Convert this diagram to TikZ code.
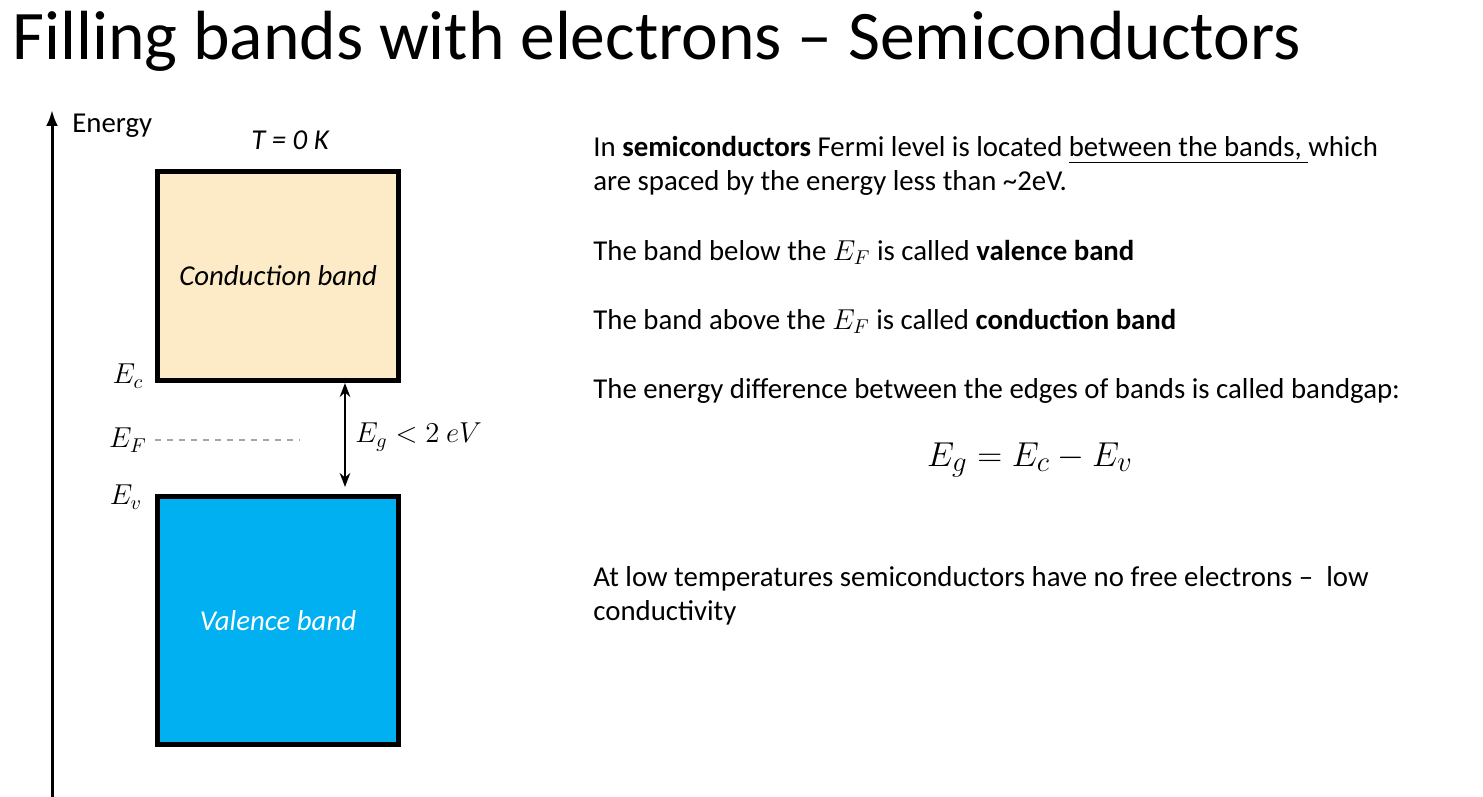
\documentclass[tikz,border=0pt]{standalone}
\usepackage{fontspec}
\setmainfont{Carlito}
\usetikzlibrary{arrows.meta}
\definecolor{cband}{HTML}{FCEBC6}
\definecolor{vband}{HTML}{00B0F0}
\tikzset{band/.style={draw=black,line width=2.6pt,inner sep=0pt},
 txt/.style={anchor=base west,inner sep=0pt,font=\fontsize{14.4}{16}\selectfont},
 lab/.style={inner sep=0pt,font=\fontsize{14.4}{16}\selectfont}}
\begin{document}
\begin{tikzpicture}[x=0.5pt,y=-0.5pt]
\useasboundingbox (0,0) rectangle (1483,797);
\node[anchor=base west,inner sep=0pt,font=\fontsize{34.8}{38}\selectfont] (title) at (12,60) {Filling bands with electrons -- Semiconductors};
\coordinate (a0) at (52,797); \coordinate (a1) at (52,110);
\draw[line width=1.5pt,-{Latex[length=8pt]}] (a0) -- (a1);
\node[txt] (en) at (72,133) {Energy};
\node[lab,font=\fontsize{14.4}{16}\selectfont\itshape] (T) at (290,140) {T = 0 K};
\node[band,fill=cband,minimum width=120.5pt,minimum height=104.5pt,anchor=north west,font=\fontsize{14.4}{16}\selectfont\itshape] (cb) at (155,169) {Conduction band};
\node[band,fill=vband,text=white,minimum width=120.5pt,minimum height=124pt,anchor=north west,font=\fontsize{14.4}{16}\selectfont\itshape] (vb) at (155,494) {Valence band};
\node[lab] (Ec) at (128,376) {$E_c$};
\node[lab] (EF) at (128,440) {$E_F$};
\node[lab] (Ev) at (126,497) {$E_v$};
\coordinate (f0) at (155,440); \coordinate (f1) at (300,440);
\draw[gray!70,dashed,line width=0.8pt] (f0) -- (f1);
\coordinate (g0) at (345,383); \coordinate (g1) at (345,487);
\draw[line width=1.4pt,{Stealth[length=7pt]}-{Stealth[length=7pt]}] (g0) -- (g1);
\node[lab,anchor=west] (Eg) at (355,437) {$E_g < 2\ eV$};
\node[txt] (t1) at (593,156) {In \textbf{semiconductors} Fermi level is located \underline{between the bands, }which};
\node[txt] (t2) at (593,191) {are spaced by the energy less than \textasciitilde 2eV.};
\node[txt] (t3) at (593,260) {The band below the $E_F$ is called \textbf{valence band}};
\node[txt] (t4) at (593,329) {The band above the $E_F$ is called \textbf{conduction band}};
\node[txt] (t5) at (593,398) {The energy difference between the edges of bands is called bandgap:};
\node[lab,font=\fontsize{19}{21}\selectfont] (eq) at (1030,460) {$E_g = E_c - E_v$};
\node[txt] (t6) at (593,586) {At low temperatures semiconductors have no free electrons --\ \ low};
\node[txt] (t7) at (593,620) {conductivity};
\end{tikzpicture}
\end{document}
